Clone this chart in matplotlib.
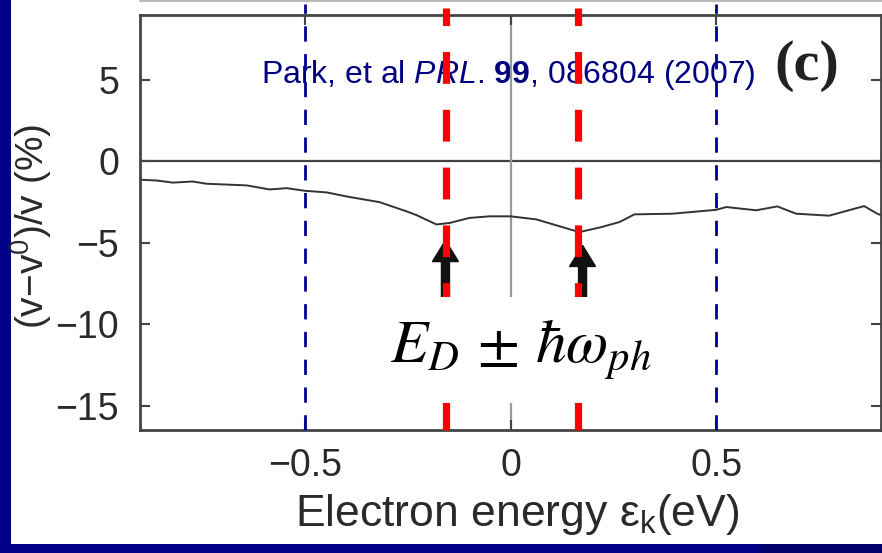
import matplotlib
matplotlib.use("Agg")
import matplotlib.pyplot as plt
from matplotlib.patches import Rectangle, FancyArrow
from matplotlib.lines import Line2D

plt.rcParams["font.family"] = ["Liberation Sans", "DejaVu Sans"]
plt.rcParams["mathtext.fontset"] = "custom"
plt.rcParams["mathtext.rm"] = "Liberation Sans"
plt.rcParams["mathtext.it"] = "Liberation Sans:italic"
plt.rcParams["mathtext.bf"] = "Liberation Sans:bold"

# Velocity renormalization vs. electron energy
energy = [-0.900, -0.859, -0.820, -0.772, -0.738, -0.641, -0.585, -0.544, -0.500,
          -0.447, -0.398, -0.318, -0.252, -0.228, -0.180, -0.148, -0.100, -0.051,
          0.000, 0.063, 0.112, 0.167, 0.218, 0.265, 0.301, 0.393, 0.500, 0.524,
          0.597, 0.648, 0.694, 0.774, 0.859, 0.891, 0.900]
dv_percent = [-1.12, -1.17, -1.30, -1.23, -1.37, -1.47, -1.72, -1.64, -1.80,
              -1.90, -2.15, -2.50, -3.07, -3.30, -3.87, -3.78, -3.47, -3.37,
              -3.37, -3.56, -3.93, -4.34, -4.05, -3.72, -3.25, -3.21, -2.97, -2.80,
              -3.00, -2.76, -3.21, -3.33, -2.74, -3.21, -3.30]

xticks = [-0.5, 0, 0.5]
xtick_labels = ["\u22120.5", "0", "0.5"]
yticks = [5, 0, -5, -10, -15]
ytick_labels = ["5", "0", "\u22125", "\u221210", "\u221215"]

cutoff_lines = [-0.5, 0.5]          # blue dashed markers
phonon_lines = [-0.157, 0.165]      # E_D +/- hbar*omega_ph
arrow_x = [-0.158, 0.175]
arrow_tip = [-4.85, -5.15]

W, H = 882, 553
fig = plt.figure(figsize=(W / 100, H / 100), dpi=100)
ax = fig.add_axes([140 / W, 1 - 430 / H, 741 / W, 415 / H])
ax.set_xlim(-0.9, 0.9)
ax.set_ylim(-16.5, 9.0)

spine_c = "#444444"
for s in ax.spines.values():
    s.set_color(spine_c)
    s.set_linewidth(2.0)

ax.set_xticks(xticks)
ax.set_xticklabels(xtick_labels)
ax.set_yticks(yticks)
ax.set_yticklabels(ytick_labels)
ax.tick_params(direction="in", length=7, width=1.5, color=spine_c,
               top=True, right=True, labelsize=27, labelcolor="#2a2a2a")
ax.tick_params(axis="y", pad=15)
ax.tick_params(axis="x", pad=13)

# reference axes through the origin
ax.axhline(0, color="#444444", lw=1.6, zorder=1.5)
ax.axvline(0, color="#999999", lw=1.6, zorder=1.5)

ax.plot(energy, dv_percent, color="#333333", lw=1.4, zorder=2)

# citation
ax.text(-0.606, 4.85, r"Park, et al $\it{PRL}$. $\bf{99}$, 086804 (2007)",
        color="#000080", fontsize=23, ha="left", va="baseline", zorder=1)
ax.text(0.72, 5.0, "(c)", family=["Liberation Serif"], fontweight="bold",
        fontsize=42, color="#222222", ha="center", va="baseline", zorder=1)

for x, tip in zip(arrow_x, arrow_tip):
    tail = -9.5
    hl = 1.3
    ax.add_patch(FancyArrow(x, tail, 0, tip - tail, width=8 / 412,
                            head_width=26 / 412, head_length=hl,
                            length_includes_head=True, color="#111111",
                            zorder=3))

for x in phonon_lines:
    ax.plot([x, x], [-16.5, 9.45], color="#ff0000", lw=5.2,
            dashes=(4.4, 3.6), clip_on=False, zorder=4)

for x in cutoff_lines:
    ax.plot([x, x], [-16.5, 9.7], color="#000090", lw=2.0,
            dashes=(5.5, 4.5), clip_on=False, zorder=4)

# white label panel for the phonon annotation
ax.add_patch(Rectangle((-0.306, -14.85), 0.69, 14.85 - 8.34,
                       facecolor="white", edgecolor="none", zorder=5))
ax.text(0.025, -12.3, r"$E_D\,\pm\,\hbar\omega_{ph}$", math_fontfamily="stix",
        fontsize=44, color="black", ha="center", va="baseline", zorder=6)

# axis titles
fig.text(517 / W, 1 - 526 / H, "Electron energy \u03b5$_\\mathregular{k}$(eV)",
         fontsize=32, color="#2a2a2a", ha="center", va="baseline")
fig.text(31 / W, 1 - 226 / H, r"(v$-$v$^0$)/v (%)", rotation=90,
         fontsize=28, color="#2a2a2a", ha="center", va="center")

# slide frame
fig.add_artist(Line2D([140 / W, 1], [1 - 0.8 / H, 1 - 0.8 / H],
                      color="#aaaaaa", lw=1.2))
fig.add_artist(Rectangle((0, 0), 11 / W, 1, facecolor="#000088",
                         edgecolor="none", transform=fig.transFigure))
fig.add_artist(Rectangle((0, 0), 1, 9 / H, facecolor="#000088",
                         edgecolor="none", transform=fig.transFigure))
fig.add_artist(Rectangle((760 / W, 0), 1, 9 / H, facecolor="#00006a",
                         edgecolor="none", transform=fig.transFigure))

fig.savefig("out.png", dpi=100)
